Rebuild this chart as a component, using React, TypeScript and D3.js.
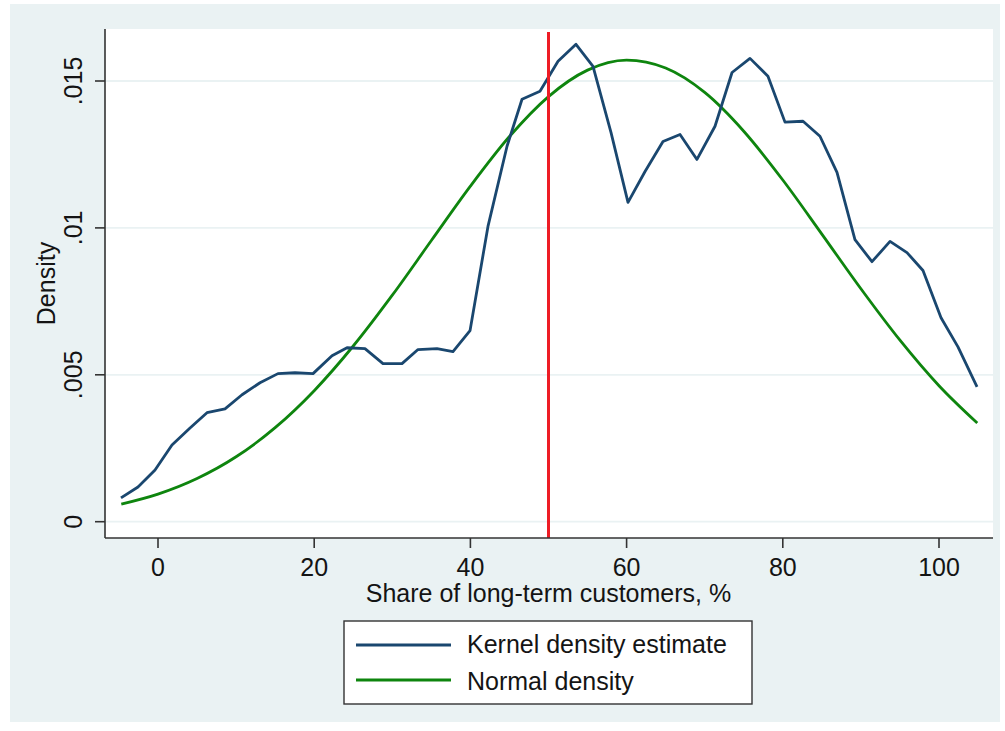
import React from 'react';
import * as d3 from 'd3';

// kernel density estimate
const kdeX = [
  -4.74, -2.56, -0.38, 1.79, 4.1, 6.27, 8.58, 10.76, 13.06, 15.36,
  17.54, 19.85, 22.28, 24.2, 26.5, 28.81, 31.24, 33.29, 35.72, 37.77,
  39.95, 42.25, 44.69, 46.61, 48.91, 51.22, 53.52, 55.7, 58.0, 60.18,
  62.36, 64.66, 66.84, 69.01, 71.32, 73.5, 75.8, 78.1, 80.28, 82.59,
  84.76, 86.94, 89.24, 91.42, 93.73, 95.9, 97.95, 100.26, 102.43, 104.87,
];
const kdeY = [
  0.00081, 0.00118, 0.00176, 0.00261, 0.00319, 0.00371, 0.00384, 0.00432, 0.00473, 0.00504,
  0.00507, 0.00504, 0.00565, 0.00592, 0.00589, 0.00538, 0.00538, 0.00586, 0.00589, 0.00579,
  0.0065, 0.01005, 0.01278, 0.01438, 0.01465, 0.01567, 0.01625, 0.0155, 0.01325, 0.01087,
  0.01192, 0.01294, 0.01318, 0.01233, 0.01346, 0.01529, 0.01577, 0.01516, 0.0136, 0.01363,
  0.01312, 0.01189, 0.0096, 0.00885, 0.00954, 0.00916, 0.00855, 0.00694, 0.00595, 0.00459,
];

// normal density curve
const normX = [
  -4.7, 0, 5, 10, 15, 20, 25, 30, 35, 40, 45, 50,
  55, 60, 65, 70, 75, 80, 85, 90, 95, 100, 104.9,
];
const normY = [
  0.0006, 0.00094, 0.00147, 0.00221, 0.0032, 0.00446, 0.00598, 0.00771, 0.00957, 0.01142, 0.01311, 0.01447,
  0.01537, 0.01571, 0.01544, 0.01461, 0.01329, 0.01163, 0.00979, 0.00793, 0.00618, 0.00463, 0.00336,
];

const xTicks = [0, 20, 40, 60, 80, 100];
const yTicks = [0, 0.005, 0.01, 0.015];
const yTickLabels = ['0', '.005', '.01', '.015'];
const cutoff = 50;

const legendItems = ['Kernel density estimate', 'Normal density'];

const W = 1005, H = 731;
const plot = { left: 105, right: 993, top: 29, bottom: 538 };
const FONT = '"Liberation Sans", Arial, sans-serif';
const FS = 25;
const BG = '#eaf2f3';
const BLUE = '#1a476f';
const GREEN = '#0e850e';
const RED = '#ee1c25';
const TEXT = '#141414';

export default function App() {
  const x = d3.scaleLinear().domain([0, 100]).range([158, 939]);
  const y = d3.scaleLinear().domain([0, 0.015]).range([521.7, 81]);

  const line = d3.line<[number, number]>()
    .x(d => x(d[0]))
    .y(d => y(d[1]));
  const smooth = d3.line<[number, number]>()
    .x(d => x(d[0]))
    .y(d => y(d[1]))
    .curve(d3.curveMonotoneX);

  const kde = kdeX.map((v, i) => [v, kdeY[i]] as [number, number]);
  const norm = normX.map((v, i) => [v, normY[i]] as [number, number]);

  return (
    <svg width={W} height={H} style={{ position: 'absolute', left: 0, top: 0, background: '#fff' }}
      fontFamily={FONT}>
      <rect x={10} y={4} width={990} height={718} fill={BG} />
      <rect x={plot.left} y={plot.top} width={plot.right - plot.left} height={plot.bottom - plot.top} fill="#fff" />

      {/* grid */}
      {yTicks.map(t => (
        <line key={'g' + t} x1={plot.left} x2={plot.right} y1={y(t)} y2={y(t)} stroke={BG} strokeWidth={1.8} />
      ))}

      {/* series */}
      <path d={smooth(norm) || ''} fill="none" stroke={GREEN} strokeWidth={2.8} strokeLinejoin="round" />
      <path d={line(kde) || ''} fill="none" stroke={BLUE} strokeWidth={2.8} strokeLinejoin="round" />
      <line x1={x(cutoff)} x2={x(cutoff)} y1={32} y2={plot.bottom} stroke={RED} strokeWidth={3} />

      {/* axes */}
      <line x1={plot.left} x2={plot.left} y1={plot.top} y2={plot.bottom} stroke="#333" strokeWidth={1.6} />
      <line x1={plot.left} x2={plot.right} y1={plot.bottom} y2={plot.bottom} stroke="#333" strokeWidth={1.6} />
      {yTicks.map((t, i) => (
        <g key={'y' + t}>
          <line x1={95} x2={plot.left} y1={y(t)} y2={y(t)} stroke="#333" strokeWidth={1.6} />
          <text transform={`translate(82,${y(t)}) rotate(-90)`} textAnchor="middle" fontSize={FS} fill={TEXT}>
            {yTickLabels[i]}
          </text>
        </g>
      ))}
      {xTicks.map(t => (
        <g key={'x' + t}>
          <line x1={x(t)} x2={x(t)} y1={plot.bottom} y2={548} stroke="#333" strokeWidth={1.6} />
          <text x={x(t)} y={576} textAnchor="middle" fontSize={FS} fill={TEXT}>{t}</text>
        </g>
      ))}
      <text transform={`translate(55,${(plot.top + plot.bottom) / 2}) rotate(-90)`} textAnchor="middle"
        fontSize={FS} fill={TEXT}>Density</text>
      <text x={x(50)} y={602} textAnchor="middle" fontSize={FS} fill={TEXT}>
        Share of long-term customers, %
      </text>

      {/* legend */}
      <rect x={344} y={621} width={408} height={83} fill="#fff" stroke="#333" strokeWidth={1.4} />
      {legendItems.map((name, i) => (
        <g key={name}>
          <line x1={356} x2={451} y1={645 + i * 35} y2={645 + i * 35}
            stroke={i === 0 ? BLUE : GREEN} strokeWidth={2.8} />
          <text x={467} y={653 + i * 37} fontSize={FS} fill={TEXT}>{name}</text>
        </g>
      ))}
    </svg>
  );
}
